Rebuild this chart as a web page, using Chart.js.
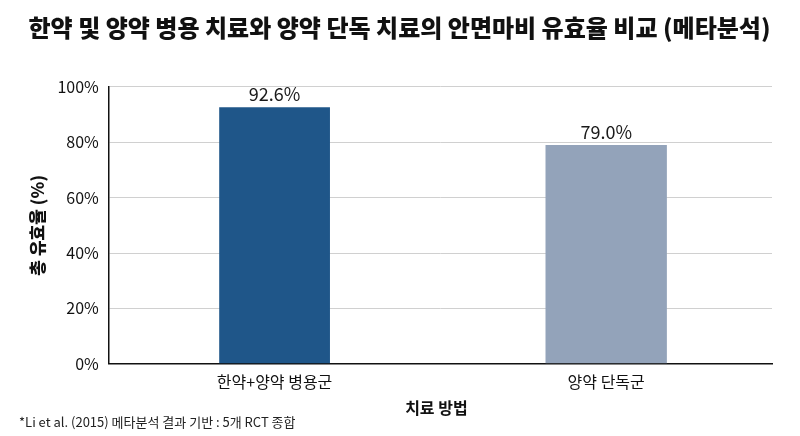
<!DOCTYPE html>
<html>
<head>
<meta charset="utf-8">
<script src="https://cdn.jsdelivr.net/npm/chart.js@4"></script>
<style>
html,body{margin:0;padding:0;background:#fff;}
#wrap{position:relative;width:800px;height:436px;}
</style>
</head>
<body>
<div id="wrap"><canvas id="c" width="800" height="436"></canvas></div>
<script>
const categories = ['한약+양약 병용군', '양약 단독군'];
const values = [92.6, 79.0];
const barColors = ['#1f5689', '#93a3ba'];
const yTicks = [0, 20, 40, 60, 80, 100];
const titleText = '한약 및 양약 병용 치료와 양약 단독 치료의 안면마비 유효율 비교 (메타분석)';
const yTitle = '총 유효율 (%)';
const xTitle = '치료 방법';
const footnote = '*Li et al. (2015) 메타분석 결과 기반 : 5개 RCT 종합';

const FONT = "'Noto Sans CJK KR', 'Noto Sans', sans-serif";

const labelPlugin = {
  id: 'labels',
  afterDatasetsDraw(chart) {
    const ctx = chart.ctx;
    const ca = chart.chartArea;
    ctx.save();
    ctx.font = "400 18px " + FONT;
    ctx.fillStyle = '#1a1a1a';
    ctx.textAlign = 'center';
    ctx.textBaseline = 'middle';
    chart.data.datasets.forEach((ds, di) => {
      const meta = chart.getDatasetMeta(di);
      meta.data.forEach((bar, i) => {
        if (ds.data[i] == null) return;
        ctx.fillText(ds.data[i].toFixed(1) + '%', bar.x, bar.y - 13);
      });
    });
    // x axis title
    ctx.font = "700 16px " + FONT;
    ctx.fillStyle = '#111';
    ctx.fillText(xTitle, (ca.left + ca.right) / 2 - 4, 408);
    // footnote
    ctx.font = "400 13px " + FONT;
    ctx.textAlign = 'left';
    ctx.fillStyle = '#222';
    ctx.fillText(footnote, 19, 422);
    ctx.restore();
  }
};

const datasets = values.map((v, i) => ({
  data: categories.map((c, j) => j === i ? v : null),
  backgroundColor: barColors[i],
  grouped: false,
  barPercentage: i === 0 ? 0.334 : 0.366,
  categoryPercentage: 1.0
}));

new Chart(document.getElementById('c'), {
  type: 'bar',
  data: { labels: categories, datasets },
  options: {
    responsive: false,
    animation: false,
    devicePixelRatio: 1,
    layout: { padding: { left: 27, right: 28, top: 4, bottom: 35 } },
    plugins: {
      legend: { display: false },
      tooltip: { enabled: false },
      title: {
        display: true,
        text: titleText,
        color: '#111',
        font: { family: FONT, size: 24, weight: 900 },
        padding: { top: 9, bottom: 45 }
      }
    },
    scales: {
      x: {
        grid: { display: false, drawTicks: false },
        border: { display: true, color: '#111', width: 1.5 },
        ticks: { color: '#111', font: { family: FONT, size: 16 }, padding: 9 },
        title: { display: false }
      },
      y: {
        min: 0, max: 100,
        afterBuildTicks(axis) { axis.ticks = yTicks.map(v => ({ value: v })); },
        grid: { color: '#d0d0d0', lineWidth: 1, drawTicks: false },
        border: { display: true, color: '#111', width: 1.5 },
        ticks: { color: '#111', font: { family: FONT, size: 16 }, padding: 10, callback: v => v + '%' },
        title: { display: true, text: yTitle, color: '#111', font: { family: FONT, size: 17, weight: 900 }, padding: { top: 0, bottom: 0 } }
      }
    }
  },
  plugins: [labelPlugin]
});
</script>
</body>
</html>
